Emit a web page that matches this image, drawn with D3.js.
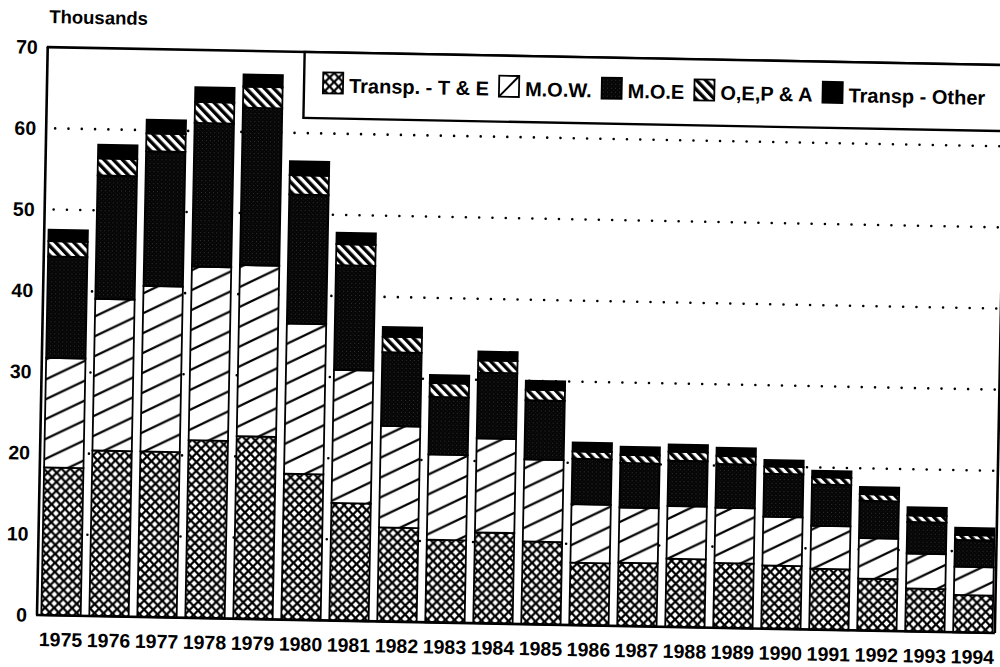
<!DOCTYPE html>
<html>
<head>
<meta charset="utf-8">
<script src="https://cdn.jsdelivr.net/npm/d3@7"></script>
<style>
  html, body { margin: 0; padding: 0; background: #fff; }
  svg { display: block; }
  text { font-family: "Liberation Sans", Arial, Helvetica, sans-serif; font-weight: bold; fill: #000; }
</style>
</head>
<body>
<svg id="chart" width="1000" height="667"></svg>
<script>
// ---- data (thousands) ----
const years = ["1975","1976","1977","1978","1979","1980","1981","1982","1983","1984",
               "1985","1986","1987","1988","1989","1990","1991","1992","1993","1994"];
const seriesNames = ["Transp. - T & E", "M.O.W.", "M.O.E", "O,E,P & A", "Transp - Other"];
const transpTE  = [18.2, 20.4, 20.4, 21.9, 22.5, 18.0, 14.5, 11.6, 10.2, 11.2, 10.2, 7.7, 7.8, 8.4, 8.0, 7.8, 7.5, 6.4, 5.3, 4.6];
const mow       = [13.5, 18.7, 20.4, 21.4, 21.1, 18.5, 16.4, 12.5, 10.5, 11.6, 10.1, 7.2, 6.8, 6.5, 6.8, 6.0, 5.3, 5.0, 4.3, 3.5];
const moe       = [12.5, 15.2, 16.6, 17.7, 19.4, 15.9, 12.9, 9.1, 7.1, 8.1, 7.3, 5.6, 5.5, 5.6, 5.4, 5.3, 5.1, 4.6, 3.9, 3.3];
const oepa      = [1.9, 2.1, 2.2, 2.6, 2.6, 2.4, 2.6, 1.9, 1.7, 1.5, 1.3, 0.9, 1.0, 1.1, 1.0, 0.9, 0.9, 0.8, 0.8, 0.6];
const transpOth = [1.4, 1.7, 1.7, 1.8, 1.5, 1.7, 1.4, 1.2, 1.0, 1.1, 1.1, 1.1, 1.0, 0.9, 1.0, 0.8, 0.8, 0.9, 1.0, 0.9];
const yTickValues = [0, 10, 20, 30, 40, 50, 60, 70];
const gridValues = [10, 20, 30, 40, 50, 60];
const yAxisTitle = "Thousands";

// ---- build table ----
const keys = ["te", "mow", "moe", "oepa", "oth"];
const columns = [transpTE, mow, moe, oepa, transpOth];
const table = years.map((yr, i) => {
  const row = { year: yr };
  keys.forEach((k, j) => row[k] = columns[j][i]);
  return row;
});

// ---- layout ----
const svg = d3.select("#chart");
const left = 37, right = 997, baseY = 615, topY = 47;
const x = d3.scaleBand().domain(years).range([left, right]).paddingInner(0.18).paddingOuter(0.09);
const y = d3.scaleLinear().domain([0, 70]).range([baseY, topY]);

// ---- patterns ----
const defs = svg.append("defs");
// crosshatch: black with white diamonds
const pTE = defs.append("pattern").attr("id", "pTE").attr("patternUnits", "userSpaceOnUse")
  .attr("width", 9).attr("height", 9);
pTE.append("rect").attr("width", 9).attr("height", 9).attr("fill", "#000");
const dia = (cx, cy, r) => `M${cx},${cy - r}L${cx + r},${cy}L${cx},${cy + r}L${cx - r},${cy}Z`;
pTE.append("path").attr("fill", "#fff")
  .attr("d", dia(4.5, 4.5, 2.9) + dia(0, 0, 2.9) + dia(9, 0, 2.9) + dia(0, 9, 2.9) + dia(9, 9, 2.9));
// MOW: shallow forward diagonals
const pMOW = defs.append("pattern").attr("id", "pMOW").attr("patternUnits", "userSpaceOnUse")
  .attr("width", 40).attr("height", 20);
pMOW.append("rect").attr("width", 40).attr("height", 20).attr("fill", "#fff");
pMOW.append("path").attr("stroke", "#000").attr("stroke-width", 2.2).attr("fill", "none")
  .attr("d", "M-10,25L50,-5M-10,5L10,-5M30,25L50,15");
// MOE: black stipple
const pMOE = defs.append("pattern").attr("id", "pMOE").attr("patternUnits", "userSpaceOnUse")
  .attr("width", 4).attr("height", 4);
pMOE.append("rect").attr("width", 4).attr("height", 4).attr("fill", "#060606");
pMOE.append("rect").attr("x", 1).attr("y", 1).attr("width", 0.8).attr("height", 0.8).attr("fill", "#4a4a4a");
pMOE.append("rect").attr("x", 3).attr("y", 3).attr("width", 0.6).attr("height", 0.6).attr("fill", "#333");
// OEPA: bold back-diagonal stripes
const pOE = defs.append("pattern").attr("id", "pOE").attr("patternUnits", "userSpaceOnUse")
  .attr("width", 6.6).attr("height", 6.6).attr("patternTransform", "rotate(-45)");
pOE.append("rect").attr("width", 6.6).attr("height", 6.6).attr("fill", "#fff");
pOE.append("rect").attr("width", 3.4).attr("height", 6.6).attr("fill", "#000");

const fills = { te: "url(#pTE)", mow: "url(#pMOW)", moe: "url(#pMOE)", oepa: "url(#pOE)", oth: "#000" };

// whole scanned page is slightly rotated
const g = svg.append("g").attr("transform", `rotate(1.08, ${left}, ${baseY})`);

// axis title
g.append("text").attr("x", 38).attr("y", 23).attr("font-size", 18.5).text(yAxisTitle);

// y tick labels
g.append("g").selectAll("text").data(yTickValues).join("text")
  .attr("x", 27).attr("y", d => y(d) + 7).attr("text-anchor", "end")
  .attr("font-size", 19.5).text(d => d);

// dotted gridlines
g.append("g").selectAll("line").data(gridValues).join("line")
  .attr("x1", left + 9).attr("x2", right - 2).attr("y1", d => y(d)).attr("y2", d => y(d))
  .attr("stroke", "#000").attr("stroke-width", 2.6).attr("stroke-linecap", "round")
  .attr("stroke-dasharray", "0 13.3");

// stacked bars
const stack = d3.stack().keys(keys)(table);
g.append("g").selectAll("g").data(stack).join("g")
  .attr("fill", d => fills[d.key])
  .selectAll("rect").data(d => d).join("rect")
  .attr("x", d => x(d.data.year))
  .attr("width", x.bandwidth())
  .attr("y", d => y(d[1]))
  .attr("height", d => y(d[0]) - y(d[1]))
  .attr("stroke", "#000").attr("stroke-width", 1.8);

// frame
const frame = g.append("g").attr("stroke", "#000").attr("stroke-width", 2.6).attr("fill", "none");
frame.append("line").attr("x1", left).attr("x2", left).attr("y1", topY).attr("y2", baseY);
frame.append("line").attr("x1", left - 1).attr("x2", right - 2).attr("y1", baseY).attr("y2", baseY);
frame.append("line").attr("x1", left - 1).attr("x2", right + 30).attr("y1", topY).attr("y2", topY);
frame.append("line").attr("x1", right - 2).attr("x2", right - 2).attr("y1", topY).attr("y2", baseY);

// year labels
g.append("g").selectAll("text").data(years).join("text")
  .attr("x", d => x(d) + x.bandwidth() / 2).attr("y", 646)
  .attr("text-anchor", "middle").attr("font-size", 19.5).text(d => d);

// legend
const lg = g.append("g");
lg.append("rect").attr("x", 294).attr("y", topY).attr("width", 740).attr("height", 66)
  .attr("fill", "#fff").attr("stroke", "#000").attr("stroke-width", 2.4);
let cx = 313;
seriesNames.forEach((name, i) => {
  const k = keys[i];
  const item = lg.append("g");
  item.append("rect").attr("x", cx).attr("y", 67).attr("width", 20).attr("height", 21)
    .attr("fill", k === "mow" ? "#fff" : fills[k]).attr("stroke", "#000").attr("stroke-width", 1.8);
  if (k === "mow") {
    item.append("line").attr("x1", cx).attr("y1", 88).attr("x2", cx + 20).attr("y2", 67)
      .attr("stroke", "#000").attr("stroke-width", 2);
  }
  const t = item.append("text").attr("x", cx + 26).attr("y", 87).attr("font-size", 20).text(name);
  cx += 26 + t.node().getComputedTextLength() + 10;
});
</script>
</body>
</html>
